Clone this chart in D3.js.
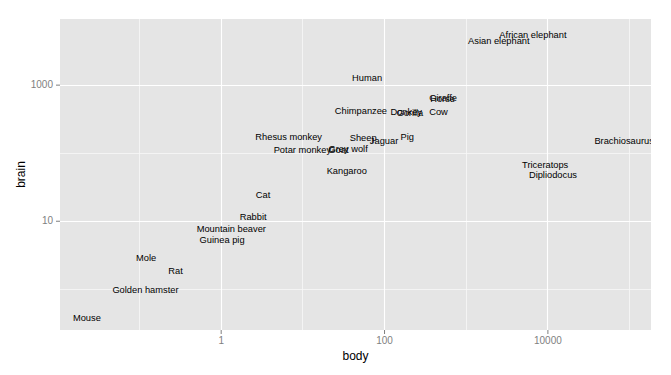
<!DOCTYPE html>
<html>
<head>
<meta charset="utf-8">
<script src="https://d3js.org/d3.v7.min.js"></script>
<style>
body { margin: 0; background: #fff; }
text { font-family: Arial, "Liberation Sans", sans-serif; }
</style>
</head>
<body>
<svg width="671" height="375"></svg>
<script>
// MASS::Animals
var names = ["Mountain beaver","Cow","Grey wolf","Goat","Guinea pig","Dipliodocus","Asian elephant",
  "Donkey","Horse","Potar monkey","Cat","Giraffe","Gorilla","Human","African elephant","Triceratops",
  "Rhesus monkey","Kangaroo","Golden hamster","Mouse","Rabbit","Sheep","Jaguar","Chimpanzee","Rat",
  "Brachiosaurus","Mole","Pig"];
var body = [1.35,465,36.33,27.66,1.04,11700,2547,187.1,521,10,3.3,529,207,62,6654,9400,
  6.8,35,0.12,0.023,2.5,55.5,100,52.16,0.28,87000,0.122,192];
var brain = [8.1,423,119.5,115,5.5,50,4603,419,655,115,25.6,680,406,1320,5712,70,
  179,56,1,0.4,12.1,175,157,440,1.9,154.5,3,180];
var xTicks = [1,100,10000];
var yTicks = [10,1000];
var xMinor = [0.1,10,1000,100000];
var yMinor = [1,100];

var svg = d3.select("svg");
var L = 60, R = 651, T = 19, B = 330;

// log scales with 5% expansion like ggplot
var lx = d3.extent(body, function(d){ return Math.log10(d); });
var ly = d3.extent(brain, function(d){ return Math.log10(d); });
var ex = (lx[1]-lx[0])*0.05, ey = (ly[1]-ly[0])*0.05;
var x = d3.scaleLog().domain([Math.pow(10,lx[0]-ex), Math.pow(10,lx[1]+ex)]).range([L,R]);
var y = d3.scaleLog().domain([Math.pow(10,ly[0]-ey), Math.pow(10,ly[1]+ey)]).range([B,T]);

svg.append("defs").append("clipPath").attr("id","panel")
  .append("rect").attr("x",L).attr("y",T).attr("width",R-L).attr("height",B-T);

svg.append("rect").attr("x",L).attr("y",T).attr("width",R-L).attr("height",B-T).attr("fill","#E5E5E5");

var grid = svg.append("g").attr("clip-path","url(#panel)");
grid.selectAll(".xmin").data(xMinor).enter().append("line")
  .attr("x1",function(d){return Math.round(x(d))+0.5;}).attr("x2",function(d){return Math.round(x(d))+0.5;})
  .attr("y1",T).attr("y2",B).attr("stroke","#F7F7F7").attr("stroke-width",0.8);
grid.selectAll(".ymin").data(yMinor).enter().append("line")
  .attr("y1",function(d){return Math.round(y(d))+0.5;}).attr("y2",function(d){return Math.round(y(d))+0.5;})
  .attr("x1",L).attr("x2",R).attr("stroke","#F7F7F7").attr("stroke-width",0.8);
grid.selectAll(".xmaj").data(xTicks).enter().append("line")
  .attr("x1",function(d){return Math.round(x(d))+0.5;}).attr("x2",function(d){return Math.round(x(d))+0.5;})
  .attr("y1",T).attr("y2",B).attr("stroke","#FFFFFF").attr("stroke-width",1.1);
grid.selectAll(".ymaj").data(yTicks).enter().append("line")
  .attr("y1",function(d){return Math.round(y(d))+0.5;}).attr("y2",function(d){return Math.round(y(d))+0.5;})
  .attr("x1",L).attr("x2",R).attr("stroke","#FFFFFF").attr("stroke-width",1.1);

// axes
var xa = svg.append("g").attr("transform","translate(0,"+B+")")
  .call(d3.axisBottom(x).tickValues(xTicks).tickFormat(d3.format("d")).tickSize(4).tickPadding(3));
var ya = svg.append("g").attr("transform","translate("+L+",0)")
  .call(d3.axisLeft(y).tickValues(yTicks).tickFormat(d3.format("d")).tickSize(4).tickPadding(3));
[xa,ya].forEach(function(a){
  a.select(".domain").remove();
  a.selectAll("line").attr("stroke","#7F7F7F");
  a.selectAll("text").attr("fill","#7F7F7F").style("font-size","10px")
    .style("font-family","Arial, 'Liberation Sans', sans-serif");
});

// labels
svg.append("g").attr("clip-path","url(#panel)")
  .selectAll("text").data(names).enter().append("text")
  .attr("x",function(d,i){return x(body[i]);})
  .attr("y",function(d,i){return y(brain[i]);})
  .attr("dy","0.5em")
  .attr("text-anchor","middle")
  .style("font-size","9.3px")
  .attr("fill","#000")
  .text(function(d){return d;});

svg.append("text").attr("x",(L+R)/2).attr("y",360).attr("text-anchor","middle")
  .style("font-size","12px").text("body");
svg.append("text").attr("transform","translate(25,"+((T+B)/2)+") rotate(-90)")
  .attr("text-anchor","middle").style("font-size","12px").text("brain");
</script>
</body>
</html>
